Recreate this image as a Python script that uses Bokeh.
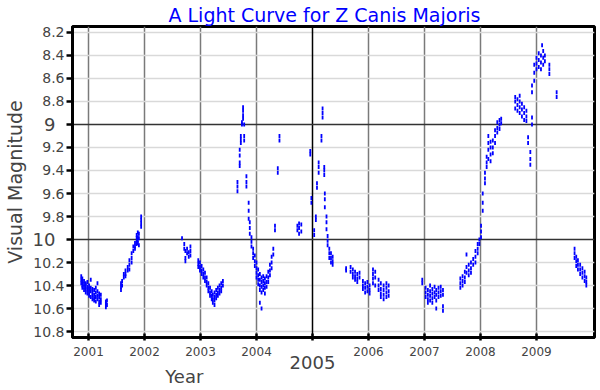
import math
from bokeh.plotting import figure
from bokeh.models import Range1d, FixedTicker, Grid, LinearAxis
from bokeh.embed import file_html
from bokeh.resources import INLINE

# ---- data: observation dates (decimal year) and visual magnitudes recorded near each date ----
obs_dates = [
    2000.87, 2000.89, 2000.92, 2000.95, 2000.98, 2001.01, 2001.04, 2001.07, 2001.10, 2001.13,
    2001.16, 2001.19, 2001.22, 2001.31, 2001.33,
    2001.58, 2001.60, 2001.63, 2001.66, 2001.70, 2001.73, 2001.77, 2001.80, 2001.83, 2001.86,
    2001.88, 2001.90, 2001.94,
    2002.67, 2002.71, 2002.73, 2002.76, 2002.79, 2002.82,
    2002.96, 2002.99, 2003.02, 2003.05, 2003.08, 2003.11, 2003.14, 2003.17, 2003.20, 2003.22,
    2003.25, 2003.28, 2003.31, 2003.34, 2003.37, 2003.40,
    2003.66, 2003.70, 2003.72, 2003.74, 2003.76, 2003.78, 2003.82, 2003.86, 2003.88, 2003.91,
    2003.94, 2003.97, 2004.00, 2004.03, 2004.06, 2004.09, 2004.12, 2004.15, 2004.18, 2004.21,
    2004.24, 2004.27, 2004.30, 2004.33, 2004.38, 2004.41, 2004.73, 2004.76, 2004.80,
    2004.96, 2004.98, 2005.03, 2005.06, 2005.08, 2005.11, 2005.16, 2005.18, 2005.21, 2005.22,
    2005.25, 2005.27, 2005.30, 2005.33, 2005.36, 2005.60, 2005.68, 2005.72, 2005.76, 2005.80,
    2005.84, 2005.90, 2005.94, 2005.98, 2006.02, 2006.08, 2006.12, 2006.18, 2006.22, 2006.27,
    2006.32, 2006.36,
    2006.96, 2007.02, 2007.06, 2007.10, 2007.14, 2007.18, 2007.21, 2007.25, 2007.29, 2007.33,
    2007.64, 2007.68, 2007.72, 2007.75, 2007.79, 2007.83, 2007.87, 2007.91, 2007.95, 2007.98,
    2008.01, 2008.04, 2008.08, 2008.11, 2008.14, 2008.18, 2008.22, 2008.26, 2008.30, 2008.34,
    2008.37, 2008.62, 2008.66, 2008.70, 2008.74, 2008.78, 2008.82, 2008.85, 2008.89, 2008.92,
    2008.96, 2009.00, 2009.04, 2009.08, 2009.10, 2009.12, 2009.15, 2009.23, 2009.36,
    2009.68, 2009.71, 2009.74, 2009.78, 2009.82, 2009.86, 2009.89,
]
obs_mags = [
    [10.32, 10.35, 10.38], [10.34, 10.37, 10.40, 10.42], [10.36, 10.39, 10.41, 10.44],
    [10.38, 10.40, 10.43, 10.46], [10.37, 10.41, 10.44, 10.47], [10.40, 10.43, 10.46, 10.49],
    [10.35, 10.42, 10.45, 10.50], [10.43, 10.46, 10.49, 10.52], [10.44, 10.48, 10.51, 10.53],
    [10.42, 10.46, 10.50, 10.54], [10.38, 10.45, 10.49, 10.52], [10.47, 10.50, 10.54, 10.57],
    [10.48, 10.52, 10.55], [10.54, 10.56, 10.59], [10.53, 10.57],
    [10.38, 10.41, 10.44], [10.36, 10.40], [10.30, 10.33], [10.27, 10.30, 10.32], [10.24, 10.27],
    [10.18, 10.22, 10.26], [10.12, 10.16, 10.20], [10.06, 10.10], [10.03, 10.06, 10.08],
    [9.96, 9.99, 10.02, 10.04], [9.94, 9.98, 10.01, 10.03], [9.95, 9.99, 10.05],
    [9.80, 9.83, 9.86, 9.89],
    [9.99], [10.04, 10.08], [10.10, 10.16, 10.19], [10.08, 10.12], [10.11, 10.15],
    [10.06, 10.10, 10.14],
    [10.18, 10.21, 10.24], [10.20, 10.24, 10.27], [10.23, 10.27, 10.30], [10.26, 10.30, 10.33],
    [10.29, 10.33, 10.36], [10.33, 10.37, 10.40], [10.38, 10.42, 10.45], [10.42, 10.46, 10.49],
    [10.45, 10.49, 10.52], [10.48, 10.52, 10.55], [10.46, 10.50, 10.53, 10.57],
    [10.44, 10.48, 10.51], [10.42, 10.46, 10.49], [10.40, 10.44, 10.47], [10.38, 10.42, 10.45],
    [10.36, 10.40],
    [9.50, 9.54, 9.58], [9.22, 9.27, 9.33, 9.36], [9.10, 9.13, 9.16], [8.98, 9.00],
    [8.85, 8.88, 8.92, 8.95], [9.00, 9.10, 9.14], [9.45, 9.50, 9.54], [9.68, 9.75, 9.82],
    [9.85, 9.90, 9.95], [9.98, 10.02, 10.06], [10.08, 10.12, 10.16], [10.14, 10.19, 10.23],
    [10.20, 10.25, 10.29, 10.33], [10.26, 10.31, 10.35, 10.39], [10.30, 10.35, 10.40, 10.44, 10.55],
    [10.33, 10.37, 10.41, 10.46, 10.60], [10.32, 10.36, 10.40, 10.44], [10.34, 10.38, 10.42, 10.47],
    [10.32, 10.37, 10.41], [10.28, 10.33, 10.37], [10.22, 10.27, 10.31], [10.15, 10.20, 10.25],
    [10.08, 10.13], [9.88, 9.92], [9.38, 9.42], [9.10, 9.14], [9.88, 9.92], [9.86, 9.90, 9.95],
    [9.87, 9.93],
    [9.23, 9.26], [9.64, 9.68], [9.92, 9.96], [9.80, 9.83], [9.51, 9.55], [9.33, 9.37, 9.42],
    [9.10, 9.14], [8.86, 8.90, 8.94], [9.37, 9.40, 9.44], [9.60, 9.65, 9.72], [9.80, 9.85, 9.91],
    [9.97, 10.01, 10.05], [10.08, 10.12, 10.16], [10.12, 10.16, 10.20], [10.15, 10.19, 10.22],
    [10.25, 10.27], [10.24, 10.28], [10.26, 10.30, 10.33], [10.28, 10.32, 10.35],
    [10.30, 10.34, 10.37], [10.29, 10.33], [10.36, 10.40, 10.43], [10.38, 10.42, 10.46],
    [10.37, 10.41, 10.45], [10.40, 10.44, 10.47], [10.26, 10.30, 10.34, 10.38],
    [10.28, 10.33, 10.40], [10.35, 10.40, 10.44], [10.38, 10.43, 10.47, 10.50],
    [10.40, 10.44, 10.48, 10.52], [10.38, 10.42, 10.46, 10.50], [10.40, 10.45, 10.49],
    [10.35, 10.38], [10.42, 10.46, 10.50], [10.44, 10.48, 10.52, 10.55], [10.40, 10.45, 10.49, 10.53],
    [10.43, 10.47, 10.51, 10.55], [10.41, 10.46, 10.50], [10.44, 10.48, 10.53, 10.60],
    [10.42, 10.46, 10.50], [10.41, 10.45, 10.49], [10.44, 10.48, 10.58, 10.62],
    [10.34, 10.38, 10.42], [10.32, 10.36, 10.40], [10.28, 10.33, 10.37], [10.13, 10.24, 10.29],
    [10.22, 10.27, 10.31], [10.20, 10.25, 10.29], [10.17, 10.22], [10.10, 10.15, 10.20],
    [10.04, 10.08, 10.12], [10.00, 10.04],
    [9.88, 9.93, 9.98], [9.60, 9.68, 9.75], [9.42, 9.47, 9.51], [9.28, 9.33, 9.37],
    [9.10, 9.16, 9.22, 9.30], [9.15, 9.20, 9.26, 9.32], [9.14, 9.20, 9.25], [9.05, 9.10, 9.16],
    [8.98, 9.03, 9.07], [8.96, 9.00, 9.04], [8.95, 8.99], [8.76, 8.80, 8.86], [8.78, 8.83, 8.88],
    [8.75, 8.80, 8.85, 8.90], [8.82, 8.87, 8.93], [8.85, 8.90, 8.96], [8.88, 8.93, 8.97],
    [9.11, 9.16], [9.24, 9.30, 9.35], [8.66, 8.72, 8.94, 9.00],
    [8.48, 8.55, 8.62], [8.42, 8.47, 8.52], [8.38, 8.44, 8.50], [8.40, 8.46, 8.52], [8.31],
    [8.36, 8.42, 8.48], [8.40, 8.45], [8.48, 8.52, 8.56], [8.72, 8.76],
    [10.08, 10.12, 10.16], [10.15, 10.19, 10.23], [10.18, 10.22, 10.26], [10.22, 10.26, 10.30],
    [10.25, 10.29, 10.33], [10.28, 10.32, 10.36], [10.33, 10.37, 10.40],
]

x_ticks = [2001, 2002, 2003, 2004, 2005, 2006, 2007, 2008, 2009]
x_tick_labels = ["2001", "2002", "2003", "2004", "2005", "2006", "2007", "2008", "2009"]
big_x_ticks = [2005]
y_ticks = [8.2, 8.4, 8.6, 8.8, 9, 9.2, 9.4, 9.6, 9.8, 10, 10.2, 10.4, 10.6, 10.8]
y_tick_labels = ["8.2", "8.4", "8.6", "8.8", "9", "9.2", "9.4", "9.6", "9.8", "10",
                 "10.2", "10.4", "10.6", "10.8"]
big_y_ticks = [9, 10]

title_text = "A Light Curve for Z Canis Majoris"
x_label = "Year"
x_label_pos = 2002.71   # where the x-axis title sits along the time axis
y_label = "Visual Magnitude"

# flatten into one table of points
xs, ys = [], []
for d, ms in zip(obs_dates, obs_mags):
    for m in ms:
        xs.append(d)
        ys.append(m)

FONT = "DejaVu Sans"
x_start, x_end = 2000.714, 2010.036
y_bottom, y_top = 10.852, 8.148

p = figure(frame_width=522, frame_height=311, output_backend="svg", toolbar_location=None,
           x_range=Range1d(x_start, x_end), y_range=Range1d(y_bottom, y_top),
           min_border_left=64, min_border_right=3, min_border_top=23, min_border_bottom=42)
p.background_fill_color = "white"
p.border_fill_color = "white"
p.outline_line_color = "black"
p.outline_line_width = 3

p.title.text = title_text
p.title.text_color = "blue"
p.title.text_font = FONT
p.title.text_font_size = "19px"
p.title.text_font_style = "normal"
p.title.align = "left"
p.title.offset = 96
p.title.standoff = 2

# inner x axis: small year labels
xa = p.xaxis[0]
xa.ticker = FixedTicker(ticks=x_ticks)
xa.major_label_overrides = {t: ("" if t in big_x_ticks else lab) for t, lab in zip(x_ticks, x_tick_labels)}
xa.minor_tick_line_color = None
xa.axis_line_width = 3
xa.major_tick_line_width = 2.5
xa.major_tick_in = 4
xa.major_tick_out = 3
xa.major_label_text_font = FONT
xa.major_label_text_font_size = "12px"
xa.major_label_standoff = 6

# outer x axis: the emphasised year label, pulled up next to the inner one
big_x_axis = LinearAxis(ticker=FixedTicker(ticks=big_x_ticks),
                        major_label_overrides={t: lab for t, lab in zip(x_ticks, x_tick_labels) if t in big_x_ticks},
                        axis_line_color=None, major_tick_line_color=None, minor_tick_line_color=None,
                        major_tick_in=0, major_tick_out=0, major_label_standoff=-3,
                        major_label_text_font=FONT, major_label_text_font_size="18px")
p.add_layout(big_x_axis, "below")

# x-axis title, placed toward the left as in the original
x_title_axis = LinearAxis(ticker=FixedTicker(ticks=[x_label_pos]),
                          major_label_overrides={x_label_pos: x_label},
                          axis_line_color=None, major_tick_line_color=None, minor_tick_line_color=None,
                          major_tick_in=0, major_tick_out=0, major_label_standoff=-6,
                          major_label_text_font=FONT, major_label_text_font_size="18px")
p.add_layout(x_title_axis, "below")

# inner y axis: small magnitude labels
ya = p.yaxis[0]
ya.ticker = FixedTicker(ticks=y_ticks)
ya.major_label_overrides = {t: ("" if t in big_y_ticks else lab) for t, lab in zip(y_ticks, y_tick_labels)}
ya.minor_tick_line_color = None
ya.axis_line_width = 3
ya.major_tick_line_width = 2.5
ya.major_tick_in = 0
ya.major_tick_out = 6
ya.major_label_text_font = FONT
ya.major_label_text_font_size = "14px"
ya.major_label_standoff = 2

# outer y axis: emphasised labels 9 and 10, pulled in over the inner label column
big_y_axis = LinearAxis(ticker=FixedTicker(ticks=big_y_ticks),
                        major_label_overrides={t: lab for t, lab in zip(y_ticks, y_tick_labels) if t in big_y_ticks},
                        axis_line_color=None, major_tick_line_color=None, minor_tick_line_color=None,
                        major_tick_in=0, major_tick_out=0, major_label_standoff=-25,
                        major_label_text_font=FONT, major_label_text_font_size="18px",
                        axis_label=y_label, axis_label_text_font=FONT,
                        axis_label_text_font_size="19px", axis_label_text_font_style="normal",
                        axis_label_standoff=4)
p.add_layout(big_y_axis, "left")

# grids
p.xgrid.ticker = FixedTicker(ticks=[t for t in x_ticks if t not in big_x_ticks])
p.xgrid.grid_line_color = "#7a7a7a"
p.xgrid.grid_line_width = 1.5
p.ygrid.ticker = FixedTicker(ticks=[t for t in y_ticks if t not in big_y_ticks])
p.ygrid.grid_line_color = "#d9d9d9"
p.ygrid.grid_line_width = 1.5
p.add_layout(Grid(dimension=0, ticker=FixedTicker(ticks=big_x_ticks),
                  grid_line_color="black", grid_line_width=1.5))
p.add_layout(Grid(dimension=1, ticker=FixedTicker(ticks=big_y_ticks),
                  grid_line_color="#333333", grid_line_width=1.5))

p.scatter(xs, ys, marker="dash", angle=math.pi / 2, size=4, line_width=1.8,
          line_color="blue", fill_color="blue")

open("out.html", "w").write(file_html(p, INLINE))
